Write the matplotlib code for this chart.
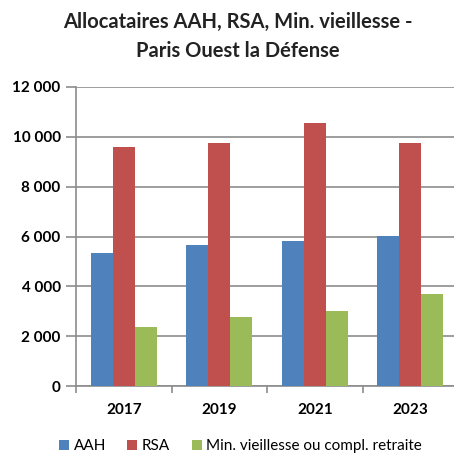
import matplotlib
matplotlib.use("Agg")
import matplotlib.pyplot as plt
import numpy as np
from matplotlib.ticker import FuncFormatter

years = ["2017", "2019", "2021", "2023"]
aah = [5330, 5640, 5800, 6010]
rsa = [9600, 9760, 10560, 9760]
minv = [2360, 2760, 2990, 3710]
series_names = ["AAH", "RSA", "Min. vieillesse ou compl. retraite"]
colors = ["#4F81BD", "#C0504D", "#9BBB59"]
yticks = [0, 2000, 4000, 6000, 8000, 10000, 12000]

plt.rcParams['font.family'] = ['Lato', 'DejaVu Sans']

fig = plt.figure(figsize=(4.54, 4.55), dpi=100)
ax = fig.add_axes([76/454, 1-386/455, (458-76)/454, (386-87)/455])

x = np.arange(len(years))
w = 0.229
for i, (vals, name, c) in enumerate(zip([aah, rsa, minv], series_names, colors)):
    ax.bar(x + (i-1)*w, vals, w, color=c, label=name, zorder=3, linewidth=0)

ax.set_xlim(-0.5, len(years)-0.5)
ax.set_ylim(0, 12000)
ax.set_yticks(yticks)
ax.yaxis.set_major_formatter(FuncFormatter(lambda v, p: f"{int(v):,}".replace(",", " ")))
ax.grid(axis='y', color='#8c8c8c', linewidth=1.2, zorder=0)
ax.set_axisbelow(True)

ax.set_xticks(x)
ax.set_xticklabels(years, fontweight='bold', fontsize=11)
ax.set_xticks(np.arange(len(years)) - 0.5, minor=True)
ax.tick_params(axis='x', which='major', length=0, pad=12)
ax.tick_params(axis='x', which='minor', length=5, color='#8c8c8c', width=1.2, direction='out')
ax.tick_params(axis='y', length=7, color='#8c8c8c', width=1.2, pad=4)
for lab in ax.get_yticklabels():
    lab.set_fontweight('bold')
    lab.set_fontsize(11)

for s in ['top', 'right']:
    ax.spines[s].set_visible(False)
for s in ['left', 'bottom']:
    ax.spines[s].set_color('#8c8c8c')
    ax.spines[s].set_linewidth(1.2)

fig.text(238/454, 1-22/455, "Allocataires AAH, RSA, Min. vieillesse -", ha='center', va='center',
         fontsize=14.5, fontweight='bold', color='#222222')
fig.text(238/454, 1-51/455, "Paris Ouest la Défense", ha='center', va='center',
         fontsize=14.5, fontweight='bold', color='#222222')

handles, labels = ax.get_legend_handles_labels()
fig.legend(handles, labels, loc='center', bbox_to_anchor=(240.5/454, 1-446/455), ncol=3,
           frameon=False, fontsize=11, handlelength=0.65, handleheight=0.65,
           handletextpad=0.3, columnspacing=1.4)

fig.savefig("out.png", dpi=100)
